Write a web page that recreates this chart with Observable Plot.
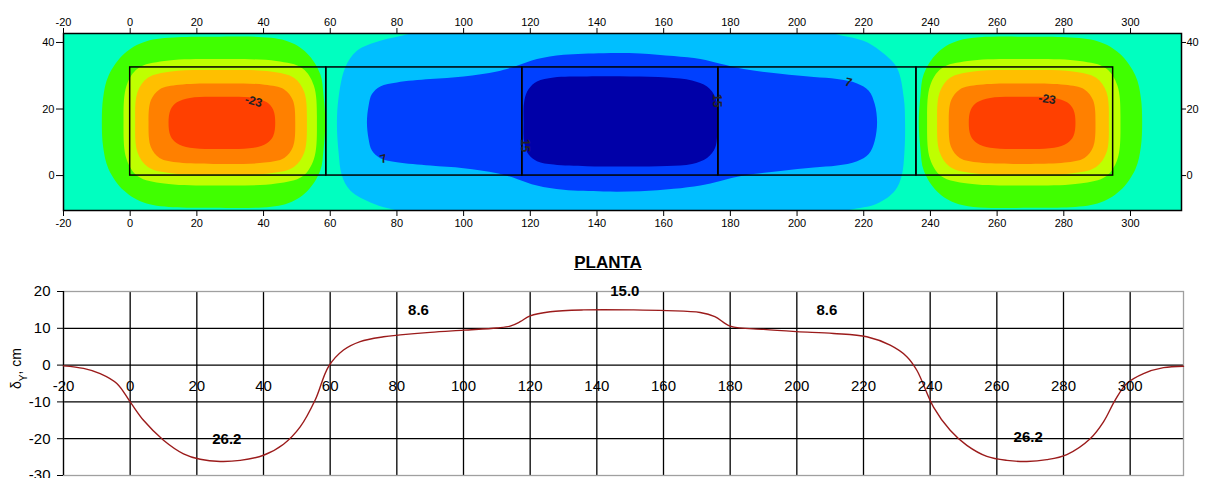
<!DOCTYPE html>
<html><head><meta charset="utf-8">
<script src="https://cdn.jsdelivr.net/npm/d3@7"></script>
<script src="https://cdn.jsdelivr.net/npm/@observablehq/plot@0.6"></script>
<style>
body{margin:0;background:#fff;}
#wrap{position:relative;width:1207px;height:478px;overflow:hidden;font-family:"Liberation Sans",Arial,sans-serif;}
#top{position:absolute;left:0;top:0;}
#bottom{position:absolute;left:0;top:240px;}
#title{position:absolute;left:508px;top:253px;width:200px;text-align:center;font-weight:bold;font-size:17px;line-height:20px;text-decoration:underline;color:#000;}
</style></head><body>
<div id="wrap"><div id="top"></div><div id="title">PLANTA</div><div id="bottom"></div></div>
<script>
// ---------- shared ticks ----------
const xTicks = [-20, 0, 20, 40, 60, 80, 100, 120, 140, 160, 180, 200, 220, 240, 260, 280, 300];
const yTicksTop = [0, 20, 40];
const yTicksBottom = [-30, -20, -10, 0, 10, 20];
const gridXBottom = [0, 20, 40, 60, 80, 100, 120, 140, 160, 180, 200, 220, 240, 260, 280, 300];
const gridYBottom = [-20, -10, 0, 10];

// ---------- plan view: column edges of the slab strips ----------
const columnEdges = [0, 58.8, 117.6, 176.4, 235.8, 294.8];
const slabY = [0, 32.5];

// ---------- contour band boundaries (x, y) ----------
const lightBlue = [[84,42.7],[75,40.5],[68,37.5],[64.5,32.5],[62.5,23.5],[62,15.5],[62.5,7],[63.5,0],[66,-4.5],[73,-8.5],[80,-10.5],
  [95,-14],[200,-14],
  [214.9,-10.5],[223.9,-8.5],[229.4,-4.5],[231.4,0],[232.2,7],[232.4,15.5],[232,23.5],[229.9,32.5],[224.9,37.5],[219.9,40.5],[210.9,42.7],
  [200,47],[95,47]];
const blue = [[71,16],[71.5,21],[72.5,24.5],[75,26.8],[80,28],[90,29],[100,29.8],[110,31.3],[116,33],[122,35],[130,36.3],[142,36.8],[153,36.7],[163,35.9],[171,35],[177,33.6],[184,32],[195,30.6],[205,29.6],[212,29],[218,27.7],[221.5,25.5],[223.3,21.5],[224,16],
  [223.3,10.5],[221.5,6.5],[218,4.3],[212,3],[205,2.4],[195,1.4],[184,0],[177,-1.6],[171,-3],[163,-4],[153,-4.7],[142,-4.8],[130,-4.3],[122,-3],[116,-1],[110,0.7],[100,2.2],[90,3],[80,4],[75,5.2],[72.5,7.5],[71.5,11]];
const darkBlue = [[118,16],[118.2,22.5],[119.5,26],[122,28.3],[127,29.5],[137,29.8],[150,29.8],[161,29.5],[168.5,28.6],[173,26.8],[175.5,23.5],[176,16],
  [175.5,8.5],[173,5.3],[168.5,3.5],[161,2.9],[150,2.7],[137,2.8],[127,3.3],[122,4.3],[119.5,6.3],[118.2,9.8]];

const greenL = [[58.5,16],[58,24],[57,30.5],[53,36.8],[46.5,40.6],[25,41.7],[4.9,40.4],[-1.8,36.6],[-6.5,30],[-8.1,23.5],[-8.5,16],[-8.1,8.5],[-6.5,2],[-1.8,-4.6],[4.9,-8.4],[25,-9.7],[46.5,-8.6],[53,-4.8],[57,1.5],[58,8]];
const yellowGreenL = [[56,16],[55.1,27],[51.7,32.2],[43.8,34.4],[27,35],[10.2,34.4],[2.3,32.2],[-1.1,27],[-2,16],[-1.1,5],[2.3,-0.2],[10.2,-2.4],[27,-3],[43.8,-2.4],[51.7,-0.2],[55.1,5]];
const goldL = [[53,16],[52.2,25.1],[49.1,29.4],[42.1,31.3],[27.2,31.7],[12.3,31.3],[5.3,29.4],[2.2,25.1],[1.5,16],[2.2,6.9],[5.3,2.6],[12.3,0.7],[27.2,0.3],[42.1,0.7],[49.1,2.6],[52.2,6.9]];
const orangeL = [[49.5,15.6],[48.8,22.6],[46.2,25.9],[40.3,27.3],[27.5,27.7],[14.7,27.3],[8.8,25.9],[6.2,22.6],[5.5,15.6],[6.2,8.6],[8.8,5.3],[14.7,3.9],[27.5,3.5],[40.3,3.9],[46.2,5.3],[48.8,8.6]];
const redL = [[43.5,15.85],[42.9,19.8],[41,22],[37.1,23.35],[27.5,23.7],[17.9,23.35],[14,22],[12.1,19.8],[11.5,15.85],[12.1,11.9],[14,9.7],[17.9,8.35],[27.5,8],[37.1,8.35],[41,9.7],[42.9,11.9]];

const greenR = [[236.5,16],[237,24],[238,30.5],[242,36.8],[248.5,40.6],[270,41.7],[290.1,40.4],[296.8,36.6],[301.5,30],[303.1,23.5],[303.5,16],[303.1,8.5],[301.5,2],[296.8,-4.6],[290.1,-8.4],[270,-9.7],[248.5,-8.6],[242,-4.8],[238,1.5],[237,8]];
const yellowGreenR = [[239,16],[239.9,27],[243.3,32.2],[251.2,34.4],[268,35],[284.8,34.4],[292.7,32.2],[296.1,27],[297,16],[296.1,5],[292.7,-0.2],[284.8,-2.4],[268,-3],[251.2,-2.4],[243.3,-0.2],[239.9,5]];
const goldR = [[242,16],[242.8,25.1],[245.9,29.4],[252.9,31.3],[267.8,31.7],[282.7,31.3],[289.7,29.4],[292.8,25.1],[293.5,16],[292.8,6.9],[289.7,2.6],[282.7,0.7],[267.8,0.3],[252.9,0.7],[245.9,2.6],[242.8,6.9]];
const orangeR = [[245.5,15.6],[246.2,22.6],[248.8,25.9],[254.7,27.3],[267.5,27.7],[280.3,27.3],[286.2,25.9],[288.8,22.6],[289.5,15.6],[288.8,8.6],[286.2,5.3],[280.3,3.9],[267.5,3.5],[254.7,3.9],[248.8,5.3],[246.2,8.6]];
const redR = [[251.5,15.85],[252.1,19.8],[254,22],[257.9,23.35],[267.5,23.7],[277.1,23.35],[281,22],[282.9,19.8],[283.5,15.85],[282.9,11.9],[281,9.7],[277.1,8.35],[267.5,8],[257.9,8.35],[254,9.7],[252.1,11.9]];

const bandColors = {bg: "#00ffc0", green: "#40ff00", yellowGreen: "#bfff00", gold: "#ffbf00", orange: "#ff8000", red: "#ff4000", lightBlue: "#00bfff", blue: "#0040ff", darkBlue: "#0000a8"};

const contourLabelText = ["-23", "-23", "7", "7", "15", "15"];
const contourLabelX = [37, 275, 76, 215.4, 118.4, 176];
const contourLabelY = [22.3, 23, 5, 28, 9, 22.5];
const contourLabelRot = [15, 8, -15, 15, 90, 90];

// ---------- profile (bottom chart) ----------
const profileX = [-20,-14,-9,-4,0,4,10,16,21,27,33,40,46,51,55.5,59.5,64,69,76,81,90,100,110,114,117,120,126,136,151,161,171,175.4,180,190,200,211,221,228,233,236,241,246,251,257,263,269,275,281,288,292,295.5,299,304,310,316];
const profileY = [-0.2,-0.9,-2.3,-5,-10,-15,-20.4,-24.1,-25.6,-26.2,-25.9,-24.5,-21.5,-16.8,-9.5,-0.4,4.1,6.4,7.7,8.2,8.9,9.5,10.1,10.6,11.8,13.4,14.5,15.0,15.0,14.8,14.3,13.2,10.6,9.7,9.1,8.6,7.7,5.4,2.3,-1.4,-11.4,-17.7,-21.8,-24.8,-25.9,-26.2,-25.7,-24.3,-20,-15.4,-9.5,-5,-2.3,-0.7,-0.3];
const peakText = ["26.2", "8.6", "15.0", "8.6", "26.2"];
const peakX = [29, 86.5, 148.4, 209, 269.4];
const peakY = [-20, 15, 20, 15, -19.5];

const font = '"Liberation Sans", Arial, sans-serif';
const fmt = d => String(d);

// ---------- top chart ----------
const bands = [
  [lightBlue, bandColors.lightBlue], [blue, bandColors.blue], [darkBlue, bandColors.darkBlue],
  [greenL, bandColors.green], [yellowGreenL, bandColors.yellowGreen], [goldL, bandColors.gold], [orangeL, bandColors.orange], [redL, bandColors.red],
  [greenR, bandColors.green], [yellowGreenR, bandColors.yellowGreen], [goldR, bandColors.gold], [orangeR, bandColors.orange], [redR, bandColors.red]
];
const slabs = columnEdges.slice(0, -1).map((x1, i) => ({x1, x2: columnEdges[i + 1], y1: slabY[0], y2: slabY[1]}));
const contourLabels = contourLabelText.map((t, i) => ({t, x: contourLabelX[i], y: contourLabelY[i], r: contourLabelRot[i]}));

const topPlot = Plot.plot({
  width: 1207, height: 240,
  marginLeft: 63, marginRight: 26, marginTop: 33, marginBottom: 30,
  x: {domain: [-20, 315.3], label: null},
  y: {domain: [-10.5, 42.7], label: null},
  style: {fontFamily: font, fontSize: "11px", color: "#000", background: "#fff", overflow: "visible"},
  marks: [
    Plot.frame({fill: bandColors.bg, stroke: "none"}),
    ...bands.map(([pts, c]) => Plot.line(pts, {x: d => d[0], y: d => d[1], fill: c, stroke: "none", curve: "catmull-rom-closed", clip: true})),
    Plot.rect(slabs, {x1: "x1", x2: "x2", y1: "y1", y2: "y2", fill: "none", stroke: "#000", strokeWidth: 1.5}),
    Plot.text(contourLabels, {x: "x", y: "y", text: "t", rotate: "r", fontSize: 12, fontWeight: "bold", fill: "#222"}),
    Plot.frame({stroke: "#000", strokeWidth: 1.5}),
    Plot.axisX({anchor: "top", ticks: xTicks, tickSize: 6, tickPadding: 2, tickFormat: fmt, label: null, fontSize: 11}),
    Plot.axisX({anchor: "bottom", ticks: xTicks, tickSize: 6, tickPadding: 3, tickFormat: fmt, label: null, fontSize: 11}),
    Plot.axisY({anchor: "left", ticks: yTicksTop, tickSize: 7, tickPadding: 2, tickFormat: fmt, label: null, fontSize: 11}),
    Plot.axisY({anchor: "right", ticks: yTicksTop, tickSize: 4, tickPadding: 1, tickFormat: fmt, label: null, fontSize: 11})
  ]
});
document.getElementById("top").appendChild(topPlot);

// ---------- bottom chart ----------
const profile = profileX.map((x, i) => ({x, y: profileY[i]}));
const peaks = peakText.map((t, i) => ({t, x: peakX[i], y: peakY[i]}));
const axisCross = 0;
const xLabels = xTicks.map(x => ({x, y: axisCross}));

const bottomPlot = Plot.plot({
  width: 1207, height: 238,
  marginLeft: 63, marginRight: 24, marginTop: 51, marginBottom: 3,
  x: {domain: [-20, 316], label: null, axis: null},
  y: {domain: [-30, 20], label: null},
  style: {fontFamily: font, fontSize: "15px", color: "#000", background: "transparent", overflow: "visible"},
  marks: [
    Plot.gridX(gridXBottom, {stroke: "#000", strokeOpacity: 1, strokeWidth: 1.3}),
    Plot.gridY(gridYBottom, {stroke: "#000", strokeOpacity: 1, strokeWidth: 1.3}),
    Plot.frame({stroke: "#a0a0a0", strokeWidth: 1.3}),
    Plot.ruleX([-20], {stroke: "#000", strokeWidth: 1.3}),
    Plot.axisY({anchor: "left", ticks: yTicksBottom, tickSize: 6, tickPadding: 7, tickFormat: fmt, label: null, fontSize: 15}),
    Plot.line(profile, {x: "x", y: "y", stroke: "#9b1b1b", strokeWidth: 1.4, curve: "catmull-rom"}),
    Plot.text(xLabels, {x: "x", y: "y", text: d => fmt(d.x), dy: 21, fontSize: 15, fill: "#000"}),
    Plot.text(peaks, {x: "x", y: "y", text: "t", fontSize: 15, fontWeight: "bold", fill: "#000"}),
    Plot.text(["δY, cm"], {frameAnchor: "left", textAnchor: "middle", dx: -47, dy: -15, rotate: -90, fontSize: 14, fill: "#000"})
  ]
});
document.getElementById("bottom").appendChild(bottomPlot);

// subscript for the axis label
for (const el of bottomPlot.querySelectorAll("text")) {
  if (el.textContent === "δY, cm") {
    const ns = "http://www.w3.org/2000/svg";
    el.textContent = "";
    const a = document.createElementNS(ns, "tspan"); a.textContent = "δ";
    const b = document.createElementNS(ns, "tspan"); b.textContent = "Y"; b.setAttribute("font-size", "10"); b.setAttribute("baseline-shift", "sub");
    const c = document.createElementNS(ns, "tspan"); c.textContent = ", cm";
    el.append(a, b, c);
  }
}
</script>
</body></html>
